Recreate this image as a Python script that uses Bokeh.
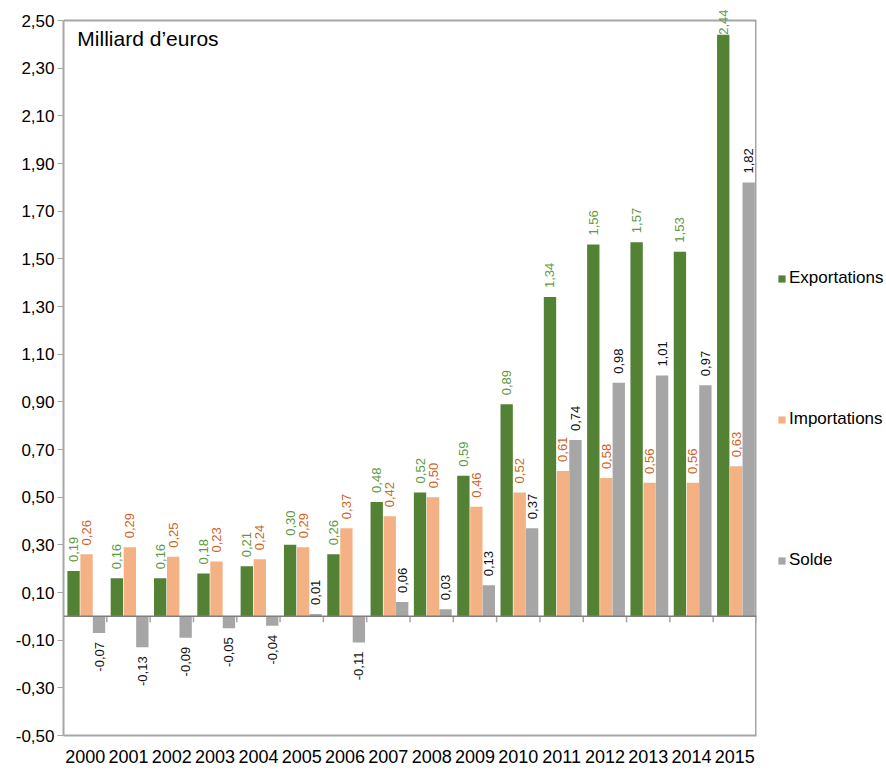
import math
from bokeh.plotting import figure
from bokeh.models import (ColumnDataSource, FactorRange, Range1d, FixedTicker, LabelSet,
                          Label, Span, Legend, LegendItem)
from bokeh.core.properties import value
from bokeh.transform import dodge
from bokeh.embed import file_html
from bokeh.resources import INLINE

years = ["2000", "2001", "2002", "2003", "2004", "2005", "2006", "2007",
         "2008", "2009", "2010", "2011", "2012", "2013", "2014", "2015"]
exportations = [0.19, 0.16, 0.16, 0.18, 0.21, 0.30, 0.26, 0.48, 0.52, 0.59, 0.89, 1.34, 1.56, 1.57, 1.53, 2.44]
importations = [0.26, 0.29, 0.25, 0.23, 0.24, 0.29, 0.37, 0.42, 0.50, 0.46, 0.52, 0.61, 0.58, 0.56, 0.56, 0.63]
solde = [-0.07, -0.13, -0.09, -0.05, -0.04, 0.01, -0.11, 0.06, 0.03, 0.13, 0.37, 0.74, 0.98, 1.01, 0.97, 1.82]
y_ticks = [-0.50, -0.30, -0.10, 0.10, 0.30, 0.50, 0.70, 0.90, 1.10, 1.30, 1.50, 1.70, 1.90, 2.10, 2.30, 2.50]
y_tick_labels = ["-0,50", "-0,30", "-0,10", "0,10", "0,30", "0,50", "0,70", "0,90", "1,10", "1,30",
                 "1,50", "1,70", "1,90", "2,10", "2,30", "2,50"]
unit_title = "Milliard d\u2019euros"
series_names = ["Exportations", "Importations", "Solde"]

FONT = "Liberation Sans"
C_EXP, C_IMP, C_SOL = "#548235", "#F4B183", "#A6A6A6"
T_EXP, T_IMP, T_SOL = "#5E9A3F", "#D0641E", "#111111"
BORDER = "#A6A6A6"

# the frame extends 20px above the 2,50 line so that the top data label is not clipped
y_min, y_max = y_ticks[0], y_ticks[-1]
inner_h = 715
top_pad_px = 20
frame_h = inner_h + top_pad_px
y_top = y_max + top_pad_px * (y_max - y_min) / inner_h

p = figure(x_range=FactorRange(*years, range_padding=0), y_range=Range1d(y_min, y_top),
           frame_width=693, frame_height=frame_h, min_border_left=63, min_border_top=0,
           min_border_right=128, min_border_bottom=34,
           output_backend="svg", toolbar_location=None, background_fill_color="white",
           border_fill_color="white")
p.xgrid.visible = False
p.ygrid.visible = False
p.outline_line_color = None

# y axis
p.yaxis.ticker = FixedTicker(ticks=y_ticks)
p.yaxis.bounds = (y_min, y_max)
p.yaxis.major_label_overrides = {t: l for t, l in zip(y_ticks, y_tick_labels)}
p.yaxis.minor_tick_line_color = None
p.yaxis.major_tick_in = 0
p.yaxis.major_tick_out = 6
p.yaxis.major_tick_line_color = BORDER
p.yaxis.axis_line_color = BORDER
p.yaxis.axis_line_width = 2
p.yaxis.major_label_standoff = 3
p.yaxis.major_label_text_font = FONT
p.yaxis.major_label_text_font_size = "17px"
p.yaxis.major_label_text_color = "black"

# x axis
p.xaxis.major_tick_line_color = None
p.xaxis.major_tick_out = 0
p.xaxis.major_tick_in = 0
p.xaxis.axis_line_color = BORDER
p.xaxis.axis_line_width = 2
p.xaxis.major_label_standoff = 14
p.xaxis.major_label_text_font = FONT
p.xaxis.major_label_text_font_size = "18px"
p.xaxis.major_label_text_color = "black"

# plot-area border (top and right)
p.add_layout(Span(location=y_max, dimension="width", line_color=BORDER, line_width=2))
p.segment(x0=[len(years)], y0=[y_min], x1=[len(years)], y1=[y_max],
          line_color=BORDER, line_width=3)

offsets = [-0.268, 0.032, 0.32]
bar_w = 0.285
src = ColumnDataSource(dict(year=years, exp=exportations, imp=importations, sol=solde))
r_exp = p.vbar(x=dodge("year", offsets[0], range=p.x_range), top="exp", bottom=0, width=bar_w,
               source=src, fill_color=C_EXP, line_color=None)
r_imp = p.vbar(x=dodge("year", offsets[1], range=p.x_range), top="imp", bottom=0, width=bar_w,
               source=src, fill_color=C_IMP, line_color=None)
r_sol = p.vbar(x=dodge("year", offsets[2], range=p.x_range), top="sol", bottom=0, width=bar_w,
               source=src, fill_color=C_SOL, line_color=None)

# zero line and category ticks
p.add_layout(Span(location=0, dimension="width", line_color="#7F7F7F", line_width=1.5))
p.segment(x0=dodge("year", 0.5, range=p.x_range), y0=0, x1=dodge("year", 0.5, range=p.x_range),
          y1=-0.025, source=src, line_color=BORDER, line_width=1.5)


def fmt(v):
    return f"{v:.2f}".replace(".", ",")


def add_labels(values, off, color):
    pos = [(y, v) for y, v in zip(years, values) if v >= 0]
    neg = [(y, v) for y, v in zip(years, values) if v < 0]
    if pos:
        s = ColumnDataSource(dict(year=[a for a, _ in pos], v=[b for _, b in pos],
                                  t=[fmt(b) for _, b in pos],
                                  yo=[0 if b > y_max - 0.15 else 9 for _, b in pos]))
        p.add_layout(LabelSet(x=dodge("year", off, range=p.x_range), y="v", text="t", source=s,
                              angle=math.pi / 2, text_align="left", text_baseline="middle",
                              y_offset="yo", text_font=value(FONT), text_font_size="13px",
                              text_color=color))
    if neg:
        s = ColumnDataSource(dict(year=[a for a, _ in neg], v=[b for _, b in neg],
                                  t=[fmt(b) for _, b in neg]))
        p.add_layout(LabelSet(x=dodge("year", off, range=p.x_range), y="v", text="t", source=s,
                              angle=math.pi / 2, text_align="right", text_baseline="middle",
                              y_offset=-9, text_font=value(FONT), text_font_size="13px",
                              text_color=color))


add_labels(exportations, offsets[0], T_EXP)
add_labels(importations, offsets[1], T_IMP)
add_labels(solde, offsets[2], T_SOL)

p.add_layout(Label(x=0.32, y=y_max, y_offset=-18, text=unit_title, text_font=FONT,
                   text_font_size="21px", text_baseline="middle", text_align="left",
                   text_color="black"))

legend = Legend(items=[LegendItem(label=series_names[0], renderers=[r_exp]),
                       LegendItem(label=series_names[1], renderers=[r_imp]),
                       LegendItem(label=series_names[2], renderers=[r_sol])],
                location=(21, 165), orientation="vertical",
                glyph_width=9, glyph_height=9, label_height=20, label_standoff=3,
                spacing=121, padding=0, margin=0, border_line_color=None,
                background_fill_alpha=0, label_text_font=FONT, label_text_font_size="17px",
                label_text_color="black")
p.add_layout(legend, "right")

open("out.html", "w").write(file_html(p, INLINE))
